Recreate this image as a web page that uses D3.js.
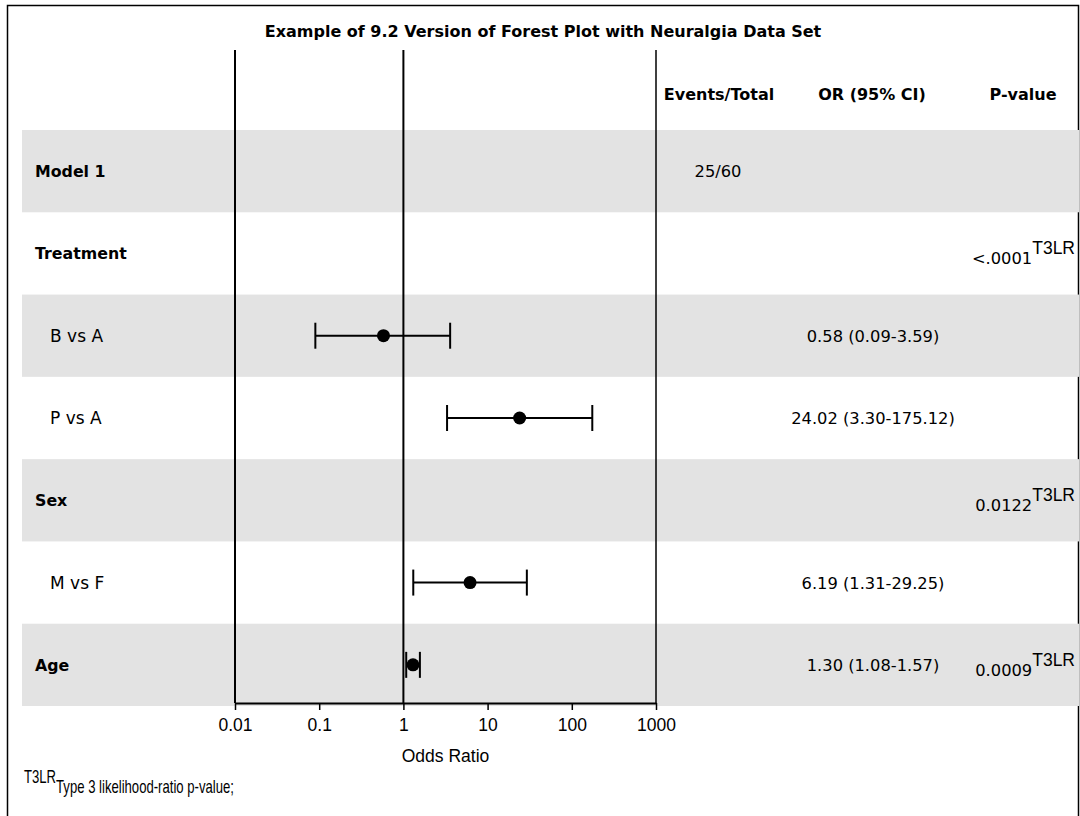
<!DOCTYPE html>
<html>
<head>
<meta charset="utf-8">
<script src="https://cdn.jsdelivr.net/npm/d3@7"></script>
<style>
  body { margin: 0; background: #fff; }
  svg { display: block; }
  .lbl { font-family: "DejaVu Sans", sans-serif; fill: #000; }
  .ax { font-family: "Liberation Sans", Arial, sans-serif; fill: #000; }
</style>
</head>
<body>
<div id="forest"></div>
<script>
var rowLabels = ["Model 1", "Treatment", "B vs A", "P vs A", "Sex", "M vs F", "Age"];
var rowIndent = [false, false, true, true, false, true, false];
var oddsRatio = [null, null, 0.58, 24.02, null, 6.19, 1.30];
var lowerCL = [null, null, 0.09, 3.30, null, 1.31, 1.08];
var upperCL = [null, null, 3.59, 175.12, null, 29.25, 1.57];
var eventsText = ["25/60", "", "", "", "", "", ""];
var orText = ["", "", "0.58 (0.09-3.59)", "24.02 (3.30-175.12)", "", "6.19 (1.31-29.25)", "1.30 (1.08-1.57)"];
var pText = ["", "<.0001", "", "", "0.0122", "", "0.0009"];
var tickValues = [0.01, 0.1, 1, 10, 100, 1000];
var headers = ["Events/Total", "OR (95% CI)", "P-value"];

var width = 1080, height = 816;

var svg = d3.select("#forest").append("svg")
    .attr("width", width)
    .attr("height", height);

// outer frame
svg.append("rect")
    .attr("x", 7.5).attr("y", 5.5)
    .attr("width", 1071).attr("height", 820)
    .attr("fill", "none")
    .attr("stroke", "#000")
    .attr("stroke-width", 1.5);

var x = d3.scaleLog().domain([0.01, 1000]).range([235, 656]);
var y = d3.scaleBand().domain(rowLabels).range([130, 706]);

var rows = rowLabels.map(function(d, i) {
  return {
    label: d, indent: rowIndent[i], or: oddsRatio[i], lo: lowerCL[i], hi: upperCL[i],
    events: eventsText[i], orText: orText[i], p: pText[i], i: i
  };
});

// shaded bands
svg.append("g").selectAll("rect")
  .data(rows.filter(function(d) { return d.i % 2 === 0; }))
  .enter().append("rect")
    .attr("x", 22)
    .attr("y", function(d) { return y(d.label); })
    .attr("width", 1057)
    .attr("height", y.bandwidth())
    .attr("fill", "#e3e3e3");

// title
svg.append("text")
    .attr("class", "lbl")
    .attr("x", 543).attr("y", 37)
    .attr("text-anchor", "middle")
    .style("font-size", "16px")
    .style("font-weight", "bold")
    .text("Example of 9.2 Version of Forest Plot with Neuralgia Data Set");

// column headers
var headerX = [719, 872, 1023];
svg.append("g").selectAll("text")
  .data(headers)
  .enter().append("text")
    .attr("class", "lbl")
    .attr("x", function(d, i) { return headerX[i]; })
    .attr("y", 100)
    .attr("text-anchor", "middle")
    .style("font-size", "16px")
    .style("font-weight", "bold")
    .text(function(d) { return d; });

// row labels
svg.append("g").selectAll("text")
  .data(rows)
  .enter().append("text")
    .attr("class", "lbl")
    .attr("x", function(d) { return d.indent ? 50 : 35; })
    .attr("y", function(d) { return y(d.label) + y.bandwidth() / 2; })
    .attr("dy", "0.36em")
    .style("font-size", function(d) { return d.indent ? "17px" : "15.8px"; })
    .style("font-weight", function(d) { return d.indent ? "normal" : "bold"; })
    .text(function(d) { return d.label; });

// events / OR columns
svg.append("g").selectAll("text")
  .data(rows.filter(function(d) { return d.events; }))
  .enter().append("text")
    .attr("class", "lbl")
    .attr("x", 718)
    .attr("y", function(d) { return y(d.label) + y.bandwidth() / 2; })
    .attr("dy", "0.36em")
    .attr("text-anchor", "middle")
    .style("font-size", "16.3px")
    .text(function(d) { return d.events; });

svg.append("g").selectAll("text")
  .data(rows.filter(function(d) { return d.orText; }))
  .enter().append("text")
    .attr("class", "lbl")
    .attr("x", 873)
    .attr("y", function(d) { return y(d.label) + y.bandwidth() / 2; })
    .attr("dy", "0.38em")
    .attr("text-anchor", "middle")
    .style("font-size", "16.3px")
    .text(function(d) { return d.orText; });

// p-values with superscript
var pv = svg.append("g").selectAll("text")
  .data(rows.filter(function(d) { return d.p; }))
  .enter().append("text")
    .attr("x", 1075)
    .attr("y", function(d) { return y(d.label) + y.bandwidth() / 2 + 11; })
    .attr("text-anchor", "end");
pv.append("tspan")
    .attr("class", "lbl")
    .style("font-size", "16.3px")
    .text(function(d) { return d.p; });
pv.append("tspan")
    .attr("class", "ax")
    .attr("dy", -10)
    .style("font-size", "17.5px")
    .text("T3LR");

// vertical lines: left frame, reference at OR=1, right frame
svg.append("line")
    .attr("x1", x(0.01)).attr("x2", x(0.01))
    .attr("y1", 50).attr("y2", 703)
    .attr("stroke", "#000").attr("stroke-width", 2);
svg.append("line")
    .attr("x1", x(1)).attr("x2", x(1))
    .attr("y1", 50).attr("y2", 703)
    .attr("stroke", "#000").attr("stroke-width", 2);
svg.append("line")
    .attr("x1", x(1000)).attr("x2", x(1000))
    .attr("y1", 50).attr("y2", 703)
    .attr("stroke", "#000").attr("stroke-width", 1.5);

// x axis
var xAxis = d3.axisBottom(x)
    .tickValues(tickValues)
    .tickFormat(function(d) { return String(d); })
    .tickSizeInner(7)
    .tickSizeOuter(0)
    .tickPadding(9);

var gx = svg.append("g")
    .attr("transform", "translate(0,703)")
    .call(xAxis);
gx.select(".domain").attr("stroke-width", 2);
gx.selectAll(".tick line").attr("stroke-width", 1.5);
gx.selectAll(".tick text")
    .attr("class", "ax")
    .style("font-size", "17.5px")
    .style("font-family", "'Liberation Sans', Arial, sans-serif");

svg.append("text")
    .attr("class", "ax")
    .attr("x", (x(0.01) + x(1000)) / 2)
    .attr("y", 762)
    .attr("text-anchor", "middle")
    .style("font-size", "17.5px")
    .text("Odds Ratio");

// CI bars and points
var marks = svg.append("g").selectAll("g")
  .data(rows.filter(function(d) { return d.or != null; }))
  .enter().append("g")
    .attr("transform", function(d) { return "translate(0," + (y(d.label) + y.bandwidth() / 2) + ")"; });
marks.append("line")
    .attr("x1", function(d) { return x(d.lo); })
    .attr("x2", function(d) { return x(d.hi); })
    .attr("stroke", "#000").attr("stroke-width", 2);
marks.append("line")
    .attr("x1", function(d) { return x(d.lo); })
    .attr("x2", function(d) { return x(d.lo); })
    .attr("y1", -13).attr("y2", 13)
    .attr("stroke", "#000").attr("stroke-width", 2);
marks.append("line")
    .attr("x1", function(d) { return x(d.hi); })
    .attr("x2", function(d) { return x(d.hi); })
    .attr("y1", -13).attr("y2", 13)
    .attr("stroke", "#000").attr("stroke-width", 2);
marks.append("circle")
    .attr("cx", function(d) { return x(d.or); })
    .attr("r", 6.5)
    .attr("fill", "#000");

// footnote
var foot = svg.append("text")
    .attr("class", "ax")
    .attr("transform", "translate(24,793) scale(0.75,1)");
foot.append("tspan")
    .attr("dy", -10)
    .style("font-size", "17.5px")
    .text("T3LR");
foot.append("tspan")
    .attr("dy", 10)
    .style("font-size", "17.5px")
    .text("Type 3 likelihood-ratio p-value;");
</script>
</body>
</html>
